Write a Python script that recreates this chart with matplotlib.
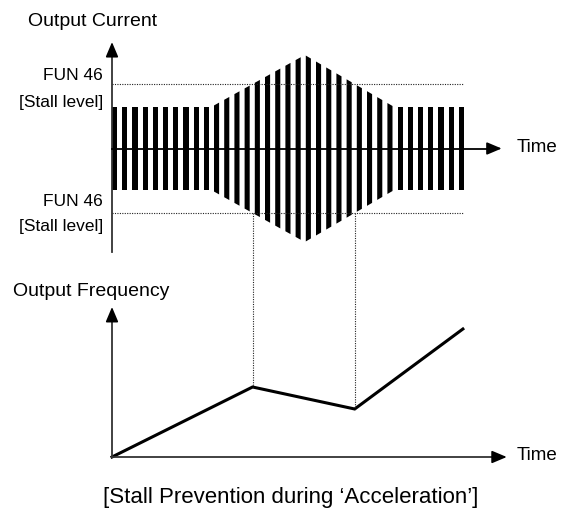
import numpy as np
import matplotlib.pyplot as plt
from matplotlib.patches import Polygon

plt.rcParams['font.family'] = ['Liberation Sans', 'DejaVu Sans']

# current waveform: one bar per carrier period, amplitude follows the envelope
N_BARS = 35
BAR_WIDTH = 0.5
env_time = [0.0, 9.8, 18.9, 27.6, 35.0]
env_amp = [0.65, 0.65, 1.45, 0.65, 0.65]
STALL_LEVEL = 1.0

# output frequency profile
freq_end_time = 34.4
freq_level = [0, 70, 48, 128]

# scales: time unit -> 10.2 px, current unit -> 64.5 px, frequency unit -> 1 px
W, H = 565, 520
T0_PX, T_PX = 112, 10.2
I0_PX, I_PX = 148.5, 64.5
F0_PX = 457

AXIS_COLOR = '#333333'


def envelope(t):
    return np.interp(t, env_time, env_amp)


def crossing(t_a, t_b, level):
    # time where the envelope passes the stall level between t_a and t_b
    a, b = envelope(t_a), envelope(t_b)
    return t_a + (level - a) / (b - a) * (t_b - t_a)


fig = plt.figure(figsize=(W / 100, H / 100), dpi=100)

ax_i = fig.add_axes([0, 0, 1, 1])
ax_i.set_xlim(-T0_PX / T_PX, (W - T0_PX) / T_PX)
ax_i.set_ylim((I0_PX - H) / I_PX, I0_PX / I_PX)
ax_i.axis('off')

ax_f = fig.add_axes([0, 0, 1, 1], sharex=ax_i)
ax_f.set_ylim(F0_PX - H, F0_PX)
ax_f.axis('off')
ax_f.patch.set_alpha(0)

# bars with tops following the envelope
for k in range(N_BARS):
    t = np.linspace(k, k + BAR_WIDTH, 8)
    a = envelope(t)
    pts = np.column_stack([np.r_[t, t[::-1]], np.r_[a, -a[::-1]]])
    ax_i.add_patch(Polygon(pts, closed=True, facecolor='black', edgecolor='none'))

# stall level lines
t_last = N_BARS - 1 + BAR_WIDTH
for s in (STALL_LEVEL, -STALL_LEVEL):
    ax_i.plot([0, t_last], [s, s], color='#222222', lw=0.8, ls=(0, (1, 1.2)))

# current axes with arrows
arrow = dict(arrowstyle='-|>,head_length=0.9,head_width=0.38', color='black',
             lw=1.2, shrinkA=0, shrinkB=0, mutation_scale=10)
ax_i.plot([0, 0], [-1.6, 1.55], color=AXIS_COLOR, lw=1.3)
ax_i.annotate('', xy=(0, 1.65), xytext=(0, 1.5), arrowprops=arrow)
ax_i.plot([0, 37.5], [0, 0], color='black', lw=1.3)
ax_i.annotate('', xy=(38.2, 0), xytext=(37.4, 0), arrowprops=arrow)

# frequency profile: knees where the current meets the stall level
t_knee1 = crossing(env_time[1], env_time[2], STALL_LEVEL)
t_knee2 = crossing(env_time[2], env_time[3], STALL_LEVEL)
freq_time = [0, t_knee1, t_knee2, freq_end_time]
ax_f.plot(freq_time, freq_level, color='black', lw=2.2, solid_joinstyle='miter')

ax_f.plot([0, 0], [0, 142], color=AXIS_COLOR, lw=1.3)
ax_f.annotate('', xy=(0, 150), xytext=(0, 138), arrowprops=arrow)
ax_f.plot([0, 38.0], [0, 0], color=AXIS_COLOR, lw=1.3)
ax_f.annotate('', xy=(38.7, 0), xytext=(37.9, 0), arrowprops=arrow)

# dotted guides from the lower stall crossing down to the frequency knees
for tk, fk in zip([t_knee1, t_knee2], freq_level[1:3]):
    top_px = I0_PX + STALL_LEVEL * I_PX
    ax_f.plot([tk, tk], [F0_PX - top_px, fk], color='#222222', lw=0.8,
              ls=(0, (1, 1.2)))


# labels (placed in pixel coordinates)
def label(x, y, s, ha='left', size=14):
    fig.text(x / W, 1 - y / H, s, ha=ha, va='center', fontsize=size)


label(28, 22, 'Output Current')
label(103, 76, 'FUN 46', ha='right', size=12.5)
label(103, 102, '[Stall level]', ha='right', size=12.5)
label(103, 201, 'FUN 46', ha='right', size=12.5)
label(103, 227, '[Stall level]', ha='right', size=12.5)
label(517, 148, 'Time', size=13.5)
label(13, 292, 'Output Frequency')
label(517, 456, 'Time', size=13.5)
label(291, 498, '[Stall Prevention during \u2018Acceleration\u2019]', size=16, ha='center')

fig.savefig('out.png', dpi=100)
